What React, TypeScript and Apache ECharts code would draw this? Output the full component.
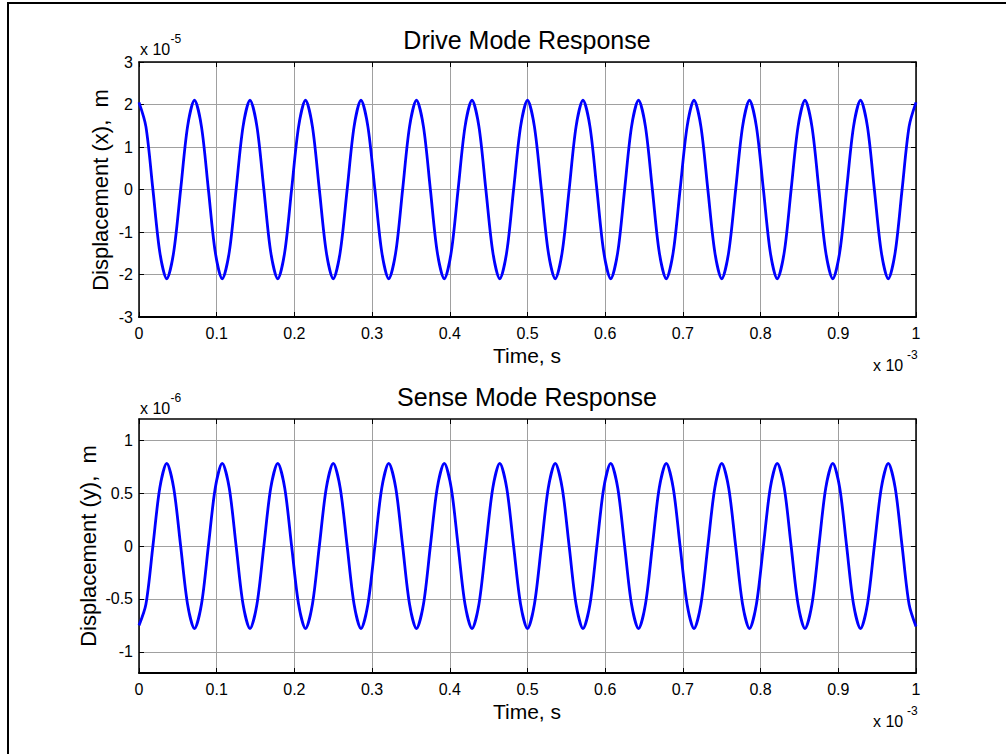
import React, { useEffect, useRef } from 'react';
import * as echarts from 'echarts';

// time in units of 1e-3 s
const timeMs = [
  0, 0.0089, 0.0179, 0.0268, 0.0357, 0.0446, 0.0536, 0.0625,
  0.0714, 0.0804, 0.0893, 0.0982, 0.1071, 0.1161, 0.125, 0.1339,
  0.1429, 0.1518, 0.1607, 0.1696, 0.1786, 0.1875, 0.1964, 0.2054,
  0.2143, 0.2232, 0.2321, 0.2411, 0.25, 0.2589, 0.2679, 0.2768,
  0.2857, 0.2946, 0.3036, 0.3125, 0.3214, 0.3304, 0.3393, 0.3482,
  0.3571, 0.3661, 0.375, 0.3839, 0.3929, 0.4018, 0.4107, 0.4196,
  0.4286, 0.4375, 0.4464, 0.4554, 0.4643, 0.4732, 0.4821, 0.4911,
  0.5, 0.5089, 0.5179, 0.5268, 0.5357, 0.5446, 0.5536, 0.5625,
  0.5714, 0.5804, 0.5893, 0.5982, 0.6071, 0.6161, 0.625, 0.6339,
  0.6429, 0.6518, 0.6607, 0.6696, 0.6786, 0.6875, 0.6964, 0.7054,
  0.7143, 0.7232, 0.7321, 0.7411, 0.75, 0.7589, 0.7679, 0.7768,
  0.7857, 0.7946, 0.8036, 0.8125, 0.8214, 0.8304, 0.8393, 0.8482,
  0.8571, 0.8661, 0.875, 0.8839, 0.8929, 0.9018, 0.9107, 0.9196,
  0.9286, 0.9375, 0.9464, 0.9554, 0.9643, 0.9732, 0.9821, 0.9911,
  1.0,
];

// drive mode displacement x, units of 1e-5 m
const driveX = [
  2.05, 1.48, 0, -1.48, -2.1, -1.48, 0, 1.48,
  2.1, 1.48, 0, -1.48, -2.1, -1.48, 0, 1.48,
  2.1, 1.48, 0, -1.48, -2.1, -1.48, 0, 1.48,
  2.1, 1.48, 0, -1.48, -2.1, -1.48, 0, 1.48,
  2.1, 1.48, 0, -1.48, -2.1, -1.48, 0, 1.48,
  2.1, 1.48, 0, -1.48, -2.1, -1.48, 0, 1.48,
  2.1, 1.48, 0, -1.48, -2.1, -1.48, 0, 1.48,
  2.1, 1.48, 0, -1.48, -2.1, -1.48, 0, 1.48,
  2.1, 1.48, 0, -1.48, -2.1, -1.48, 0, 1.48,
  2.1, 1.48, 0, -1.48, -2.1, -1.48, 0, 1.48,
  2.1, 1.48, 0, -1.48, -2.1, -1.48, 0, 1.48,
  2.1, 1.48, 0, -1.48, -2.1, -1.48, 0, 1.48,
  2.1, 1.48, 0, -1.48, -2.1, -1.48, 0, 1.48,
  2.1, 1.48, 0, -1.48, -2.1, -1.48, 0, 1.48,
  2.05,
];

// sense mode displacement y, units of 1e-6 m
const senseY = [
  -0.75, -0.55, 0, 0.55, 0.78, 0.55, 0, -0.55,
  -0.78, -0.55, 0, 0.55, 0.78, 0.55, 0, -0.55,
  -0.78, -0.55, 0, 0.55, 0.78, 0.55, 0, -0.55,
  -0.78, -0.55, 0, 0.55, 0.78, 0.55, 0, -0.55,
  -0.78, -0.55, 0, 0.55, 0.78, 0.55, 0, -0.55,
  -0.78, -0.55, 0, 0.55, 0.78, 0.55, 0, -0.55,
  -0.78, -0.55, 0, 0.55, 0.78, 0.55, 0, -0.55,
  -0.78, -0.55, 0, 0.55, 0.78, 0.55, 0, -0.55,
  -0.78, -0.55, 0, 0.55, 0.78, 0.55, 0, -0.55,
  -0.78, -0.55, 0, 0.55, 0.78, 0.55, 0, -0.55,
  -0.78, -0.55, 0, 0.55, 0.78, 0.55, 0, -0.55,
  -0.78, -0.55, 0, 0.55, 0.78, 0.55, 0, -0.55,
  -0.78, -0.55, 0, 0.55, 0.78, 0.55, 0, -0.55,
  -0.78, -0.55, 0, 0.55, 0.78, 0.55, 0, -0.55,
  -0.76,
];

const senseTicks = [-1, -0.5, 0, 0.5, 1];

const FONT = 'Arial, "Liberation Sans", sans-serif';

export default function App() {
  const ref = useRef<HTMLDivElement>(null);

  useEffect(() => {
    document.body.style.margin = '0';
    const chart = echarts.init(ref.current!, undefined, { renderer: 'svg' });

    const driveData = timeMs.map((t, i) => [t, driveX[i]]);
    const senseData = timeMs.map((t, i) => [t, senseY[i]]);

    const mainX = (gridIndex: number) => ({
      type: 'value',
      gridIndex,
      min: 0,
      max: 1,
      interval: 0.1,
      position: 'bottom',
      axisLine: { show: true, onZero: false, lineStyle: { color: '#000', width: 2 } },
      axisTick: { show: true, inside: true, length: 5, lineStyle: { color: '#000', width: 1 } },
      axisLabel: { color: '#000', fontSize: 16, fontFamily: FONT, margin: 8 },
      splitLine: { show: true, lineStyle: { color: '#a0a0a0', width: 1 } },
    });
    const topX = (gridIndex: number) => ({
      type: 'value',
      gridIndex,
      min: 0,
      max: 1,
      interval: 0.1,
      position: 'top',
      axisLine: { show: true, onZero: false, lineStyle: { color: '#000', width: 1.5 } },
      axisTick: { show: true, inside: true, length: 5, lineStyle: { color: '#000', width: 1 } },
      axisLabel: { show: false },
      splitLine: { show: false },
    });

    const text = (x: number, y: number, s: string, size: number, align = 'center', rotation = 0) => ({
      type: 'text',
      x,
      y,
      rotation,
      style: { text: s, fontSize: size, fontFamily: FONT, fill: '#000', align, verticalAlign: 'middle' },
    });

    const option: any = {
      animation: false,
      backgroundColor: '#fff',
      grid: [
        { left: 139, top: 62, width: 777, height: 255 },
        { left: 139, top: 419, width: 777, height: 254 },
      ],
      xAxis: [mainX(0), topX(0), mainX(1), topX(1)],
      yAxis: [
        {
          type: 'value',
          gridIndex: 0,
          min: -3,
          max: 3,
          interval: 1,
          position: 'left',
          axisLine: { show: true, onZero: false, lineStyle: { color: '#000', width: 1.5 } },
          axisTick: { show: true, inside: true, length: 5, lineStyle: { color: '#000', width: 1 } },
          axisLabel: { color: '#000', fontSize: 16, fontFamily: FONT, margin: 6 },
          splitLine: { show: true, lineStyle: { color: '#a0a0a0', width: 1 } },
        },
        {
          type: 'value',
          gridIndex: 0,
          min: -3,
          max: 3,
          interval: 1,
          position: 'right',
          axisLine: { show: true, onZero: false, lineStyle: { color: '#000', width: 1.5 } },
          axisTick: { show: true, inside: true, length: 5, lineStyle: { color: '#000', width: 1 } },
          axisLabel: { show: false },
          splitLine: { show: false },
        },
        {
          type: 'value',
          gridIndex: 1,
          min: -1.2,
          max: 1.2,
          position: 'left',
          axisLine: { show: true, onZero: false, lineStyle: { color: '#000', width: 1.5 } },
          axisTick: {
            show: true,
            inside: true,
            length: 5,
            customValues: senseTicks,
            lineStyle: { color: '#000', width: 1 },
          },
          axisLabel: { color: '#000', fontSize: 16, fontFamily: FONT, margin: 6, customValues: senseTicks },
          splitLine: { show: true, lineStyle: { color: '#a0a0a0', width: 1 } },
        },
        {
          type: 'value',
          gridIndex: 1,
          min: -1.2,
          max: 1.2,
          position: 'right',
          axisLine: { show: true, onZero: false, lineStyle: { color: '#000', width: 1.5 } },
          axisTick: {
            show: true,
            inside: true,
            length: 5,
            customValues: senseTicks,
            lineStyle: { color: '#000', width: 1 },
          },
          axisLabel: { show: false },
          splitLine: { show: false },
        },
      ],
      series: [
        {
          type: 'line',
          xAxisIndex: 0,
          yAxisIndex: 0,
          data: driveData,
          showSymbol: false,
          smooth: 0.3,
          lineStyle: { color: '#0000ff', width: 2.8 },
          z: 5,
        },
        {
          type: 'line',
          xAxisIndex: 2,
          yAxisIndex: 2,
          data: senseData,
          showSymbol: false,
          smooth: 0.3,
          lineStyle: { color: '#0000ff', width: 2.8 },
          z: 5,
        },
      ],
      graphic: [
        {
          type: 'polyline',
          shape: { points: [[8, 760], [8, 3], [1010, 3]] },
          style: { stroke: '#000', lineWidth: 2, fill: null },
        },
        text(527, 40, 'Drive Mode Response', 25),
        text(527, 397, 'Sense Mode Response', 25),
        text(527, 355, 'Time, s', 21),
        text(527, 711, 'Time, s', 21),
        text(100, 190, 'Displacement (x),  m', 22, 'center', Math.PI / 2),
        text(88, 546, 'Displacement (y),  m', 22, 'center', Math.PI / 2),
        text(140, 49.5, 'x 10', 16, 'left'),
        text(170.5, 39, '-5', 12, 'left'),
        text(873, 365.5, 'x 10', 16, 'left'),
        text(907, 355, '-3', 12, 'left'),
        text(140, 408, 'x 10', 16, 'left'),
        text(170.5, 397.5, '-6', 12, 'left'),
        text(873, 721.5, 'x 10', 16, 'left'),
        text(907, 711, '-3', 12, 'left'),
      ],
    };

    chart.setOption(option);
    return () => chart.dispose();
  }, []);

  return <div ref={ref} style={{ width: 1006, height: 754 }} />;
}
